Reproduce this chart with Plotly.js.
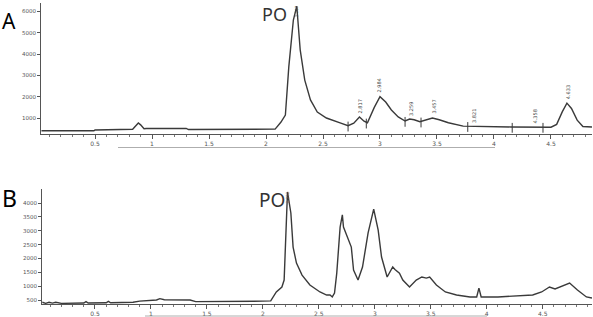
<!DOCTYPE html>
<html>
<head>
<meta charset="utf-8">
<script src="https://cdn.plot.ly/plotly-3.0.1.min.js"></script>
<style>html,body{margin:0;padding:0;background:#fff;}#chart{width:593px;height:317px;}</style>
</head>
<body>
<div id="chart"></div>
<script>
// ---- Panel A chromatogram (retention time, min / response) ----
const timeA = [0.03, 0.2, 0.49, 0.5, 0.8, 0.83, 0.86, 0.88, 0.9, 0.93, 0.95, 1.3, 1.32, 1.6, 1.62, 2.0, 2.08, 2.13, 2.17, 2.2, 2.24, 2.27, 2.30, 2.34, 2.39, 2.45, 2.53, 2.65, 2.72, 2.77, 2.82, 2.86, 2.89, 2.95, 3.0, 3.05, 3.1, 3.16, 3.22, 3.26, 3.3, 3.35, 3.4, 3.46, 3.52, 3.6, 3.73, 3.9, 4.15, 4.5, 4.55, 4.6, 4.64, 4.68, 4.73, 4.78, 4.86];
const respA = [400, 400, 400, 440, 440, 470, 650, 770, 680, 500, 510, 510, 460, 460, 470, 470, 480, 800, 1140, 3400, 5600, 6250, 4200, 2780, 1850, 1280, 1000, 770, 640, 760, 1050, 850, 780, 1500, 2000, 1750, 1380, 1050, 860, 950, 920, 830, 920, 1000, 920, 780, 620, 600, 580, 570, 700, 1300, 1700, 1450, 900, 600, 580];
// integration event marks in A
const eventTimeA = [2.72, 2.88, 3.22, 3.36, 3.77, 4.16, 4.43];
const eventRespA = [600, 740, 820, 790, 580, 540, 540];
// peak retention-time labels in A
const peakTimeA = [2.82, 2.99, 3.27, 3.47, 3.82, 4.36, 4.65];
const peakRespA = [1050, 2000, 900, 1000, 600, 560, 1700];
const peakTextA = ["2.817", "2.984", "3.259", "3.457", "3.821", "4.358", "4.633"];
// label at the PO peak apex (A and B)
const apexTimeA = 2.27, apexRespA = 6380, apexTextA = "2.267";
const apexTimeB = 2.22, apexRespB = 4480, apexTextB = "2.222";

// ---- Panel B chromatogram ----
const timeB = [0.03, 0.06, 0.09, 0.12, 0.15, 0.2, 0.4, 0.42, 0.44, 0.6, 0.62, 0.64, 0.84, 0.9, 1.05, 1.08, 1.12, 1.35, 1.4, 1.55, 1.6, 2.0, 2.07, 2.12, 2.17, 2.19, 2.22, 2.25, 2.27, 2.30, 2.35, 2.42, 2.51, 2.57, 2.6, 2.62, 2.64, 2.66, 2.69, 2.71, 2.72, 2.75, 2.79, 2.81, 2.85, 2.89, 2.94, 2.99, 3.03, 3.06, 3.11, 3.16, 3.18, 3.22, 3.25, 3.31, 3.37, 3.42, 3.46, 3.49, 3.55, 3.63, 3.73, 3.85, 3.91, 3.93, 3.95, 4.1, 4.27, 4.41, 4.49, 4.56, 4.61, 4.67, 4.74, 4.81, 4.89, 4.94];
const respB = [420, 380, 420, 390, 420, 380, 390, 440, 390, 400, 450, 400, 420, 460, 500, 550, 510, 500, 440, 440, 460, 460, 470, 790, 970, 1220, 4400, 3640, 2410, 1830, 1400, 1040, 790, 680, 680, 610, 750, 1470, 3130, 3570, 3130, 2840, 2410, 1580, 1220, 1690, 2920, 3780, 3020, 2050, 1330, 1690, 1600, 1470, 1220, 970, 1220, 1330, 1290, 1330, 1040, 790, 680, 610, 610, 930, 610, 610, 640, 680, 790, 970, 900, 1000, 1110, 860, 610, 570];

const tickValsX = [0.5, 1, 1.5, 2, 2.5, 3, 3.5, 4, 4.5];
const tickTextX = ["0.5", "1", "1.5", "2", "2.5", "3", "3.5", "4", "4.5"];
const tickValsYA = [1000, 2000, 3000, 4000, 5000, 6000];
const tickValsYB = [500, 1000, 1500, 2000, 2500, 3000, 3500, 4000];

const W = 593, H = 317;
const px = v => v / W, py = v => 1 - v / H;
const lineColor = '#3a3a3a';
const axColor = '#555';

const traces = [
  {x: timeA, y: respA, xaxis: 'x', yaxis: 'y', mode: 'lines', line: {color: lineColor, width: 1.4}, hoverinfo: 'skip'},
  {x: eventTimeA, y: eventRespA, xaxis: 'x', yaxis: 'y', mode: 'markers',
   marker: {symbol: 'line-ns', size: 7, line: {color: lineColor, width: 1}}, hoverinfo: 'skip'},
  {x: timeB, y: respB, xaxis: 'x2', yaxis: 'y2', mode: 'lines', line: {color: lineColor, width: 1.4}, hoverinfo: 'skip'}
];

function xax(domain, range, anchor) {
  return {domain: domain, range: range, anchor: anchor, showline: true, linecolor: axColor, linewidth: 1,
    ticks: 'outside', ticklen: 4, tickcolor: axColor, tickvals: tickValsX, ticktext: tickTextX,
    tickfont: {size: 6, color: '#555', family: 'DejaVu Sans'}, showgrid: false, zeroline: false,
    minor: {dtick: 0.1, ticks: 'outside', ticklen: 2, tickcolor: '#777'}};
}
function yax(domain, range, anchor, vals) {
  return {domain: domain, range: range, anchor: anchor, showline: true, linecolor: axColor, linewidth: 1,
    ticks: 'outside', ticklen: 3, tickcolor: axColor, tickvals: vals,
    tickfont: {size: 5.5, color: '#555', family: 'DejaVu Sans'}, showgrid: false, zeroline: false};
}

const annotations = [
  {xref: 'paper', yref: 'paper', x: px(0), y: py(21), xanchor: 'left', yanchor: 'middle', text: 'A', showarrow: false,
   font: {family: 'Noto Sans', size: 21, color: '#000'}},
  {xref: 'paper', yref: 'paper', x: px(0), y: py(198), xanchor: 'left', yanchor: 'middle', text: 'B', showarrow: false,
   font: {family: 'Noto Sans', size: 23, color: '#000'}},
  {xref: 'paper', yref: 'paper', x: px(274), y: py(14), xanchor: 'center', yanchor: 'middle', text: 'PO', showarrow: false,
   font: {family: 'Noto Sans', size: 18, color: '#333'}},
  {xref: 'paper', yref: 'paper', x: px(272), y: py(200), xanchor: 'center', yanchor: 'middle', text: 'PO', showarrow: false,
   font: {family: 'Noto Sans', size: 19, color: '#333'}},
  {xref: 'x', yref: 'y', x: apexTimeA, y: apexRespA, text: apexTextA, textangle: -90, xanchor: 'center', yanchor: 'top',
   showarrow: false, font: {size: 4, color: '#444', family: 'DejaVu Sans'}},
  {xref: 'x2', yref: 'y2', x: apexTimeB, y: apexRespB, text: apexTextB, textangle: -90, xanchor: 'center', yanchor: 'top',
   showarrow: false, font: {size: 4, color: '#8a5a40', family: 'DejaVu Sans'}}
];
for (let i = 0; i < peakTimeA.length; i++) {
  annotations.push({xref: 'x', yref: 'y', x: peakTimeA[i], y: peakRespA[i], text: peakTextA[i], textangle: -90,
    xanchor: 'center', yanchor: 'bottom', yshift: 2, showarrow: false, font: {size: 5, color: '#444', family: 'DejaVu Sans'}});
}

const layout = {
  width: W, height: H, margin: {l: 0, r: 0, t: 0, b: 0}, paper_bgcolor: '#fff', plot_bgcolor: '#fff', showlegend: false,
  xaxis: xax([px(41), px(592)], [0.026, 4.86], 'y'),
  yaxis: yax([py(134), py(3)], [250, 6400], 'x', tickValsYA),
  xaxis2: xax([px(42), px(592)], [0.027, 4.94], 'y2'),
  yaxis2: yax([py(304), py(189)], [356, 4505], 'x2', tickValsYB),
  annotations: annotations,
  shapes: [
    {type: 'line', xref: 'paper', yref: 'paper', x0: px(118), x1: px(495), y0: py(147.5), y1: py(147.5), line: {color: '#999', width: 0.8}},
    {type: 'line', xref: 'paper', yref: 'paper', x0: px(145), x1: px(487), y0: py(316), y1: py(316), line: {color: '#999', width: 0.8}}
  ]
};

Plotly.newPlot('chart', traces, layout, {staticPlot: true, displayModeBar: false});
</script>
</body>
</html>
